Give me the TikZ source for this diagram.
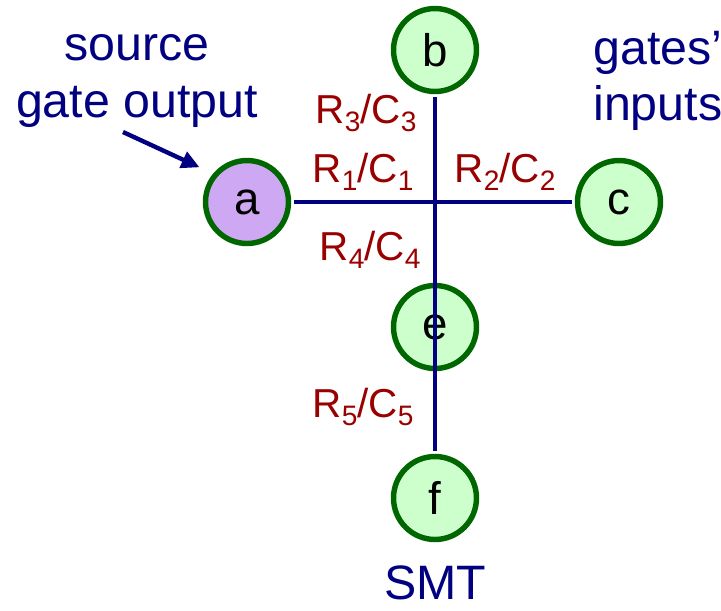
\documentclass[tikz,border=0pt]{standalone}
\usepackage{fontspec}
\setmainfont{Liberation Sans}
\usetikzlibrary{arrows.meta}
\definecolor{wirec}{HTML}{000080}
\definecolor{rimc}{HTML}{006600}
\definecolor{gatec}{HTML}{CCFFCC}
\definecolor{srcc}{HTML}{CFA8F4}
\definecolor{rcc}{HTML}{990000}
\newcommand{\rsub}[1]{\raisebox{-5pt}{\fontsize{16}{18}\selectfont #1}}

\begin{document}
\begin{tikzpicture}[x=0.02cm, y=-0.02cm,
    gatenode/.style={circle, draw=rimc, line width=3.1pt, fill=gatec,
                     minimum size=1.66cm, inner sep=0pt,
                     font=\fontsize{26}{30}\selectfont},
    srcnode/.style={gatenode, fill=srcc},
    net/.style={draw=wirec, line width=2.8pt, shorten <=1.5pt, shorten >=1.5pt},
    ptr/.style={-{Triangle[length=0.36cm, width=0.34cm]}, draw=wirec, fill=wirec,
                line width=2.5pt},
    rclbl/.style={text=rcc, inner sep=0pt, font=\fontsize{23}{27}\selectfont},
    notetxt/.style={text=wirec, inner sep=0pt, font=\fontsize{27.5}{32}\selectfont}
]
    \useasboundingbox (0,0) rectangle (721,610);

    \node[srcnode]  (a) at (247,202) {a};
    \node[gatenode] (b) at (435,50)  {b};
    \node[gatenode] (c) at (619,202) {c};
    \node[gatenode] (e) at (435,327) {e};
    \node[gatenode] (f) at (435,498) {f};

    \draw[net] (a) -- (c);
    \draw[net] (b) -- (f);

    \node[rclbl, anchor=base] (r3) at (366,123) {R\rsub{3}/C\rsub{3}};
    \node[rclbl, anchor=base] (r1) at (363,182) {R\rsub{1}/C\rsub{1}};
    \node[rclbl, anchor=base] (r2) at (505,182) {R\rsub{2}/C\rsub{2}};
    \node[rclbl, anchor=base] (r4) at (370,260) {R\rsub{4}/C\rsub{4}};
    \node[rclbl, anchor=base] (r5) at (363,417) {R\rsub{5}/C\rsub{5}};

    \node[notetxt, align=center] (srclbl) at (137,81) {source\\gate output};
    \node[notetxt, align=left, anchor=west] (gateslbl) at (593,81) {gates'\\inputs};
    \node[notetxt] (smt) at (435,583) {SMT};

    \coordinate (ptrtail) at (123,132);
    \draw[ptr, shorten >=0.3cm] (ptrtail) -- (a.140);
\end{tikzpicture}
\end{document}
